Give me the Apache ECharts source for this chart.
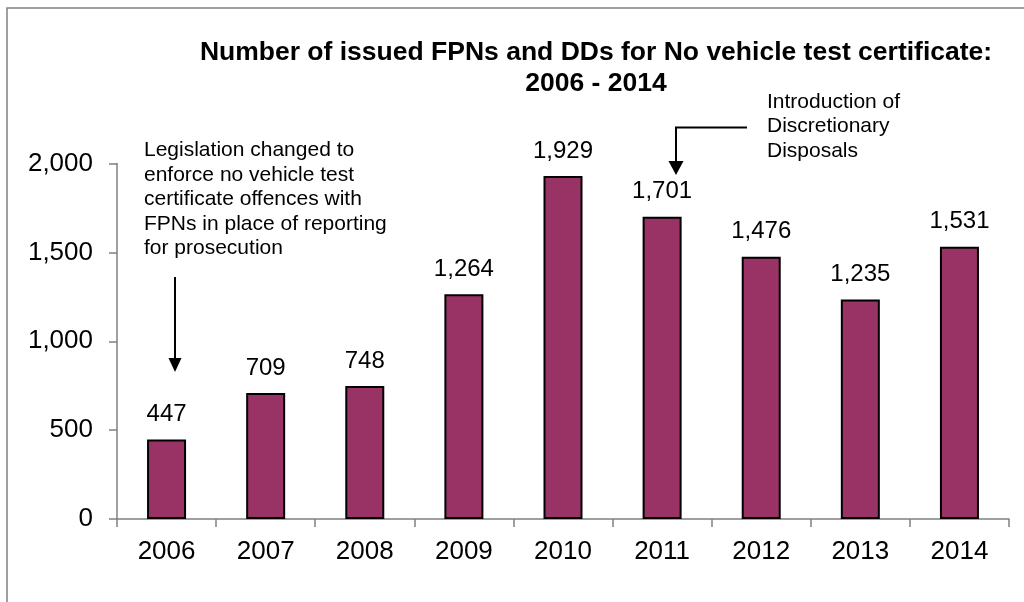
<!DOCTYPE html>
<html>
<head>
<meta charset="utf-8">
<script src="https://cdn.jsdelivr.net/npm/echarts@6/dist/echarts.min.js"></script>
<style>
  html, body { margin: 0; padding: 0; background: #fff; }
  #chart { width: 1024px; height: 602px; }
</style>
</head>
<body>
<div id="chart"></div>
<script>
// data
var years = ['2006', '2007', '2008', '2009', '2010', '2011', '2012', '2013', '2014']
var issued = [447, 709, 748, 1264, 1929, 1701, 1476, 1235, 1531]
var yTicks = [0, 500, 1000, 1500, 2000]

var font = '"Liberation Sans", Arial, sans-serif'
var fmt = function (v) { return Number(v).toLocaleString('en-GB') }

var chart = echarts.init(document.getElementById('chart'))

var option = {
  animation: false,
  backgroundColor: '#fff',
  title: {
    text: 'Number of issued FPNs and DDs for No vehicle test certificate:\n2006 - 2014',
    left: 591,
    top: 32,
    textAlign: 'center',
    textStyle: {
      fontFamily: font,
      fontSize: 26.5,
      fontWeight: 'bold',
      color: '#000',
      lineHeight: 31
    }
  },
  grid: {
    left: 117,
    right: 15,
    top: 163.5,
    bottom: 83
  },
  xAxis: {
    type: 'category',
    data: years,
    axisLine: { lineStyle: { color: '#808080', width: 1.5 } },
    axisTick: { show: true, length: 8, lineStyle: { color: '#808080', width: 1.5 } },
    axisLabel: { color: '#000', fontFamily: font, fontSize: 26, margin: 20 }
  },
  yAxis: {
    type: 'value',
    min: yTicks[0],
    max: yTicks[yTicks.length - 1],
    interval: 500,
    splitLine: { show: false },
    axisLine: { show: true, lineStyle: { color: '#808080', width: 1.5 } },
    axisTick: { show: true, length: 8, lineStyle: { color: '#808080', width: 1.5 } },
    axisLabel: { color: '#000', fontFamily: font, fontSize: 26, margin: 24, formatter: fmt }
  },
  series: [
    {
      type: 'bar',
      data: issued,
      barWidth: 39,
      itemStyle: { color: '#993366', borderColor: '#000', borderWidth: 2 },
      label: {
        show: true,
        position: 'top',
        distance: 13,
        color: '#000',
        fontFamily: font,
        fontSize: 24,
        formatter: function (p) { return fmt(p.value) }
      }
    }
  ],
  graphic: [
    // outer frame (only top and left edges visible in the crop)
    {
      type: 'rect',
      silent: true,
      shape: { x: 7, y: 8, width: 1040, height: 620 },
      style: { fill: 'none', stroke: '#808080', lineWidth: 1.5 }
    },
    {
      type: 'text',
      left: 144,
      top: 138,
      style: {
        text: 'Legislation changed to\nenforce no vehicle test\ncertificate offences with\nFPNs in place of reporting\nfor prosecution',
        font: '21px ' + font,
        fill: '#000',
        lineHeight: 24.5
      }
    },
    {
      type: 'line',
      shape: { x1: 175, y1: 277, x2: 175, y2: 360 },
      style: { stroke: '#000', lineWidth: 2 }
    },
    {
      type: 'polygon',
      shape: { points: [[168.5, 358], [181.5, 358], [175, 372]] },
      style: { fill: '#000' }
    },
    {
      type: 'text',
      left: 767,
      top: 89.5,
      style: {
        text: 'Introduction of\nDiscretionary\nDisposals',
        font: '21px ' + font,
        fill: '#000',
        lineHeight: 24.5
      }
    },
    {
      type: 'polyline',
      shape: { points: [[747, 127.5], [676, 127.5], [676, 163]] },
      style: { stroke: '#000', lineWidth: 2, fill: 'none' }
    },
    {
      type: 'polygon',
      shape: { points: [[668.5, 161], [683.5, 161], [676, 175]] },
      style: { fill: '#000' }
    }
  ]
}

chart.setOption(option)
</script>
</body>
</html>
